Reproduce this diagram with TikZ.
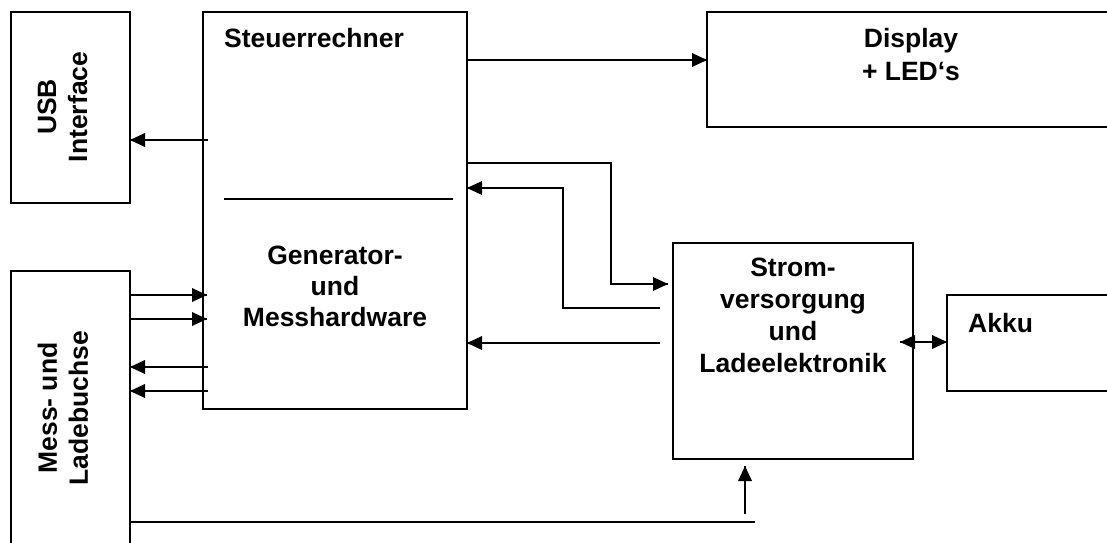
\documentclass[tikz,border=0pt]{standalone}
\usepackage{fontspec}
\setmainfont{Liberation Sans}
\begin{document}
\begin{tikzpicture}[
x=1pt, y=-1pt,
font=\bfseries\fontsize{26.5}{31}\selectfont,
unit/.style={
rectangle,
draw=black,
line width=2.2pt,
outer sep=0pt,
inner sep=0pt
},
wire/.style={line width=1.7pt}
]
\useasboundingbox (0,0) rectangle (1107,542);
\clip (0,0) rectangle (1107,542);

% Blocks
\node[unit, minimum width=119pt, minimum height=191pt] (usb) at (70.5,107.5) {};
\node[unit, minimum width=119pt, minimum height=299pt] (buchse) at (70.5,420.5) {};
\node[unit, minimum width=264pt, minimum height=397pt] (steuer) at (335,210.5) {};
\node[unit, minimum width=423pt, minimum height=115pt] (display) at (918.5,69.5) {};
\node[unit, minimum width=240pt, minimum height=216pt] (strom) at (793,351) {};
\node[unit, minimum width=183pt, minimum height=96pt] (akku) at (1038.5,343) {};

% Texts
\node[rotate=90, align=center] (usbtext) at (62.5,107) {USB\\Interface};
\node[rotate=90, align=center] (buchsetext) at (63,408) {Mess- und\\Ladebuchse};
\node[anchor=base west, inner sep=0pt] (steuertext) at (224,47) {Steuerrechner};
\node[align=center] (gentext) at (335,286) {Generator-\\und\\Messhardware};
\node[align=center, font=\bfseries\fontsize{26.5}{33}\selectfont] (disptext) at (911,55) {Display\\+ LED‘s};
\node[align=center, font=\bfseries\fontsize{26.5}{32}\selectfont] (stromtext) at (793,315) {Strom-\\versorgung\\und\\Ladeelektronik};
\node[anchor=base west, inner sep=0pt] (akkutext) at (968,332) {Akku};

% Divider inside Steuerrechner
\draw[line width=1.3pt] (224,199) -- (453,199);

% Free ends of the connectors
\coordinate (usbout) at (208,140);
\coordinate (loopa) at (611,284);
\coordinate (loopaend) at (668,284);
\coordinate (loopb) at (660,308);
\coordinate (loopbup) at (563,188);
\coordinate (stromout) at (660,343);
\coordinate (akkuout) at (900,342);
\coordinate (buchsea) at (207,295);
\coordinate (buchseb) at (207,319);
\coordinate (buchsec) at (208,367);
\coordinate (buchsed) at (208,391);
\coordinate (bottomend) at (755,522);
\coordinate (ladefrom) at (745,514);
\coordinate (ladeto) at (745,466);

% Arrow shafts
\draw[wire] (usbout) -- (usb.east |- usbout);
\draw[wire] (steuer.east |- 0,60) -- (display.west |- 0,60);
\draw[wire] (steuer.east |- 0,163) -| (loopa) -- (loopaend);
\draw[wire] (loopb) -| (loopbup) -- (steuer.east |- loopbup);
\draw[wire] (stromout) -- (steuer.east |- stromout);
\draw[wire] (akkuout) -- (akku.west |- akkuout);
\draw[wire] (buchse.east |- buchsea) -- (buchsea);
\draw[wire] (buchse.east |- buchseb) -- (buchseb);
\draw[wire] (buchsec) -- (buchse.east |- buchsec);
\draw[wire] (buchsed) -- (buchse.east |- buchsed);
\draw[wire] (buchse.east |- bottomend) -- (bottomend);
\draw[wire] (ladefrom) -- (ladeto);

% Arrowheads
\fill (usb.east |- usbout) -- ++(15,7) -- ++(0,-14) -- cycle;
\fill (display.west |- 0,60) -- ++(-15,7) -- ++(0,-14) -- cycle;
\fill (loopaend) -- ++(-15,7) -- ++(0,-14) -- cycle;
\fill (steuer.east |- loopbup) -- ++(15,7) -- ++(0,-14) -- cycle;
\fill (steuer.east |- stromout) -- ++(15,7) -- ++(0,-14) -- cycle;
\fill (akkuout) -- ++(15,7) -- ++(0,-14) -- cycle;
\fill (akku.west |- akkuout) -- ++(-15,7) -- ++(0,-14) -- cycle;
\fill (buchsea) -- ++(-15,7) -- ++(0,-14) -- cycle;
\fill (buchseb) -- ++(-15,7) -- ++(0,-14) -- cycle;
\fill (buchse.east |- buchsec) -- ++(15,7) -- ++(0,-14) -- cycle;
\fill (buchse.east |- buchsed) -- ++(15,7) -- ++(0,-14) -- cycle;
\fill (ladeto) -- ++(7,15) -- ++(-14,0) -- cycle;

\end{tikzpicture}
\end{document}
